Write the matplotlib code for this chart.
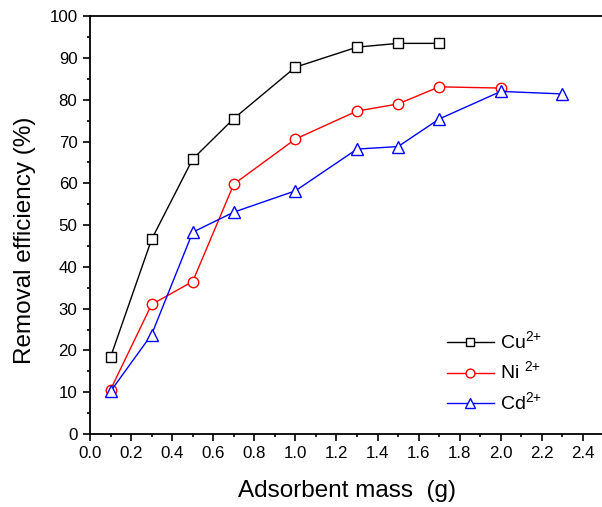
"""
Eficiência de remoção vs massa de adsorvente (Cu, Ni, Cd).
"""
import matplotlib
matplotlib.use('Agg')
import matplotlib.pyplot as plt
from matplotlib.ticker import MultipleLocator

plt.rcParams['font.family'] = ['Liberation Sans', 'DejaVu Sans']
plt.rcParams['mathtext.fontset'] = 'custom'
plt.rcParams['mathtext.rm'] = 'Liberation Sans'

# dados
mass_cu = [0.1, 0.3, 0.5, 0.7, 1.0, 1.3, 1.5, 1.7]
eff_cu = [18.4, 46.6, 65.8, 75.5, 87.8, 92.6, 93.5, 93.5]

mass_ni = [0.1, 0.3, 0.5, 0.7, 1.0, 1.3, 1.5, 1.7, 2.0]
eff_ni = [10.6, 31.0, 36.5, 59.8, 70.6, 77.3, 79.0, 83.1, 82.8]

mass_cd = [0.1, 0.3, 0.5, 0.7, 1.0, 1.3, 1.5, 1.7, 2.0, 2.3]
eff_cd = [10.2, 23.8, 48.3, 53.1, 58.2, 68.2, 68.8, 75.4, 82.0, 81.4]

labels = [r'Cu$^{2{+}}$', r'Ni $^{2{+}}$', r'Cd$^{2{+}}$']
xticks = [0.0, 0.2, 0.4, 0.6, 0.8, 1.0, 1.2, 1.4, 1.6, 1.8, 2.0, 2.2, 2.4]

fig = plt.figure(figsize=(6.02, 5.07), dpi=100)
ax = fig.add_axes([0.1495, 0.1440, 0.853, 0.8240])

ax.plot(mass_cu, eff_cu, color='black', lw=1, marker='s', ms=6.5,
        mfc='white', mec='black', mew=1, label=labels[0])
ax.plot(mass_ni, eff_ni, color='red', lw=1, marker='o', ms=7.5,
        mfc='white', mec='red', mew=1, label=labels[1])
ax.plot(mass_cd, eff_cd, color='blue', lw=1, marker='^', ms=8,
        mfc='white', mec='blue', mew=1, label=labels[2])

ax.set_xticks(xticks)
ax.set_xticklabels([f'{v:.1f}' for v in xticks])
ax.xaxis.set_minor_locator(MultipleLocator(0.1))
ax.yaxis.set_major_locator(MultipleLocator(10))
ax.yaxis.set_minor_locator(MultipleLocator(5))
ax.set_xlim(0, 2.5)
ax.set_ylim(0, 100)

ax.tick_params(which='major', direction='out', length=5, width=1.2,
               labelsize=12.2, pad=4, top=False, right=False)
ax.tick_params(which='minor', direction='out', length=2.5, width=1.2,
               top=False, right=False)
for s in ax.spines.values():
    s.set_linewidth(1.3)
ax.spines['right'].set_visible(False)

ax.set_xlabel('Adsorbent mass  (g)', fontsize=17.5, labelpad=13)
ax.set_ylabel('Removal efficiency (%)', fontsize=17.5)
ax.yaxis.set_label_coords(-0.105, 0.464)

ax.legend(loc='upper left', bbox_to_anchor=(0.695, 0.248), frameon=False,
          fontsize=14, handlelength=2.4, handletextpad=0.35,
          labelspacing=0.4, borderpad=0, borderaxespad=0,
          markerscale=0.85)

fig.savefig('out.png', dpi=100)
